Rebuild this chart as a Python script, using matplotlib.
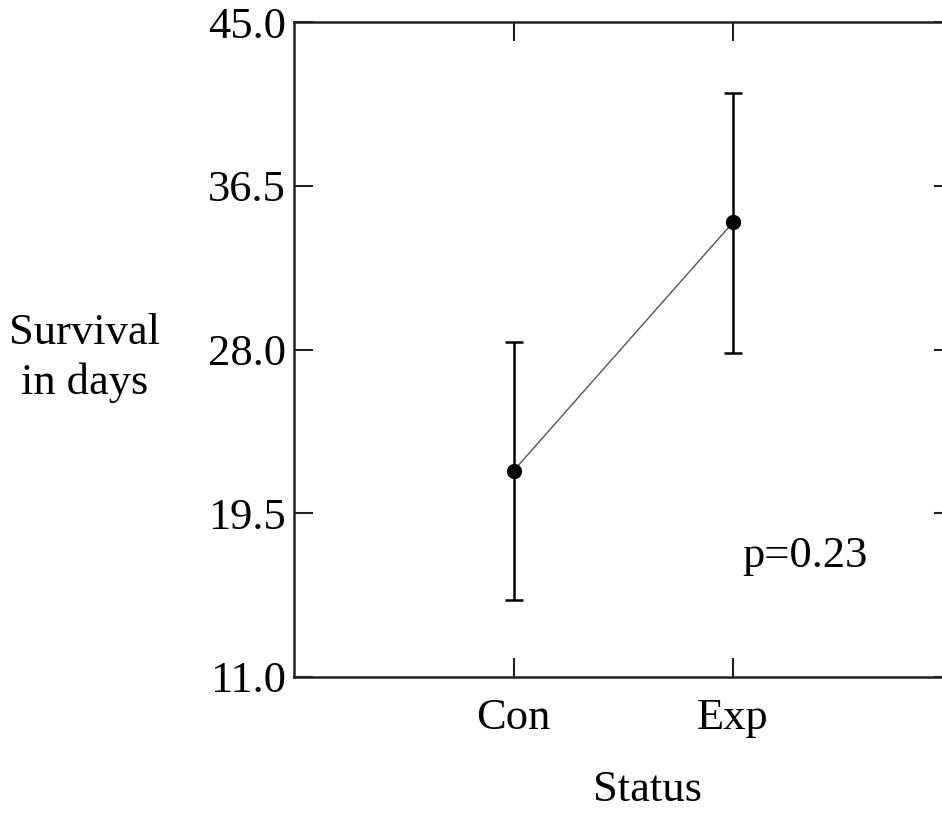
import numpy as np
import matplotlib
matplotlib.use("Agg")
import matplotlib.pyplot as plt

plt.rcParams['font.family'] = ['Liberation Serif', 'DejaVu Serif']

# data
groups = ['Con', 'Exp']
group_pos = [1, 2]
means = [21.7, 34.6]
upper = [28.4, 41.3]
lower = [15.0, 27.8]
yticks = [11.0, 19.5, 28.0, 36.5, 45.0]

err_lo = np.array(means) - np.array(lower)
err_hi = np.array(upper) - np.array(means)

W, H = 942, 814
fig = plt.figure(figsize=(W / 100, H / 100), dpi=100)
# right spine lies just past the image edge, as in the reference
ax = fig.add_axes([294 / W, (H - 677) / H, 658.5 / W, 655 / H])

# thin connecting line
ax.plot(group_pos, means, color='#555555', linewidth=1.0, zorder=2)
# error bars with caps
ax.errorbar(group_pos, means, yerr=[err_lo, err_hi], fmt='o', color='black',
            markersize=10, elinewidth=1.8, capsize=6.5, capthick=1.8, zorder=3)

ax.set_xlim(0, 3)
ax.set_ylim(11, 45)
ax.set_xticks(group_pos)
ax.set_xticklabels(groups)
ax.set_yticks(yticks)
ax.set_yticklabels([f'{v:.1f}' for v in yticks])

for s in ax.spines.values():
    s.set_linewidth(1.8)
    s.set_color('#222222')

ax.tick_params(axis='both', which='both', direction='in', length=14, width=1.5,
               color='#222222', top=True, right=True, labelsize=32)
ax.tick_params(axis='x', pad=15)
ax.tick_params(axis='y', pad=6)

ax.text(2.04, 17.3, 'p=0.23', fontsize=32, ha='left', va='center')

fig.text(85 / W, 1 - 358 / H, 'Survival\nin days', fontsize=32, ha='center',
         va='center', linespacing=1.28)
fig.text(647 / W, 1 - 790 / H, 'Status', fontsize=32, ha='center', va='center')

fig.savefig('out.png', dpi=100, facecolor='white')
